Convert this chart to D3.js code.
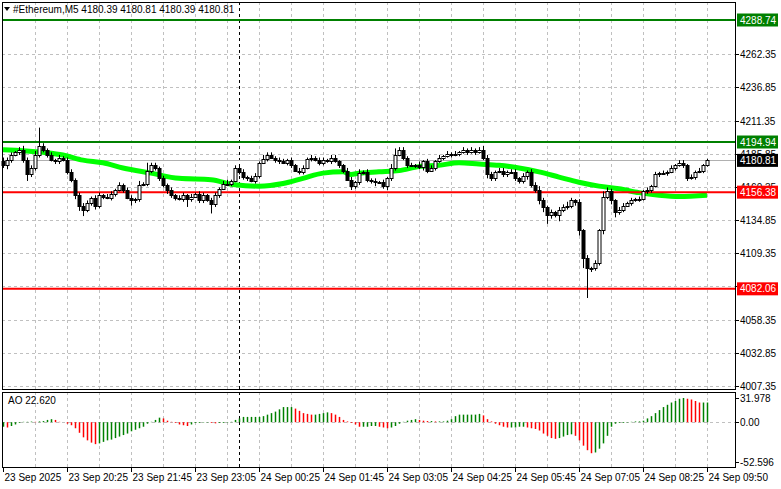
<!DOCTYPE html>
<html><head><meta charset="utf-8">
<script src="https://cdn.jsdelivr.net/npm/d3@7/dist/d3.min.js"></script>
<style>body{margin:0;background:#fff}svg{display:block}text{font-family:"Liberation Sans",Arial,sans-serif}</style>
</head><body>
<svg id="c" width="781" height="489"></svg>
<script>
const closes=[4177,4181,4185,4187,4189,4181,4170,4175,4185,4192,
4189,4185,4181,4180,4183,4181,4172,4166,4154,4146,
4143,4148,4152,4146,4154,4153,4152,4155,4158,4162,
4158,4152,4150,4151,4162,4163,4173,4177,4175,4167,
4162,4158,4154,4152,4151,4154,4151,4153,4155,4150,
4154,4150,4147,4154,4159,4163,4163,4165,4175,4172,
4168,4167,4165,4169,4179,4182,4185,4183,4181,4180,
4179,4181,4177,4173,4172,4175,4182,4183,4181,4179,
4181,4180,4183,4180,4177,4173,4166,4161,4164,4171,
4172,4166,4165,4164,4164,4161,4167,4175,4185,4189,
4183,4177,4177,4177,4176,4180,4173,4175,4180,4183,
4184,4186,4185,4186,4187,4189,4187,4189,4187,4189,
4183,4170,4167,4172,4173,4170,4172,4172,4167,4165,
4169,4172,4162,4158,4150,4145,4139,4141,4139,4143,
4145,4146,4150,4149,4127,4106,4098,4098,4102,4127,
4153,4157,4150,4141,4143,4146,4148,4150,4151,4151,
4157,4158,4161,4170,4171,4171,4172,4175,4177,4179,
4177,4167,4168,4172,4173,4177,4181];
const firstOpen=4180;
const upWick=[3,2,2,1,2,3,2,2,3,14,2,1,2,1,2,1,2,2,1,2,2,2,1,2,2,1,2,2,1,2,1,2,2,1,3,1,6,2,2,1,2,1,2,1,2,2,1,2,1,2,2,1,2,2,1,2,3,1,2,2,2,1,2,2,1,3,2,2,1,2,2,1,2,1,2,2,1,2,1,2,2,1,2,2,1,1,2,2,1,3,1,2,1,2,1,2,1,3,5,2,2,1,2,1,3,1,2,2,1,2,1,2,1,2,1,2,1,2,1,2,3,2,2,1,2,2,1,2,2,1,2,1,2,2,3,2,1,2,1,2,2,3,2,1,2,1,2,1,2,1,4,3,2,1,2,2,1,2,1,2,1,2,1,2,1,2,1,2,1,2,2,1,2,1,2,1,1];
const downWick=[2,3,2,1,2,2,5,2,2,2,2,2,1,2,2,1,2,2,3,4,5,2,2,3,2,2,1,2,2,1,2,1,4,2,2,1,2,2,2,2,2,3,2,2,1,2,6,2,1,2,2,1,7,2,2,1,2,2,1,2,2,2,1,2,2,1,2,1,2,2,1,2,2,1,2,2,1,2,1,2,2,1,2,1,2,2,1,3,2,2,1,2,2,3,1,2,3,2,2,1,2,2,1,2,2,3,2,1,2,1,2,1,2,1,2,1,2,1,2,1,2,3,2,2,1,2,2,1,2,2,2,3,2,2,3,4,7,3,2,5,2,2,2,3,4,8,23,3,2,2,3,2,3,4,2,2,1,2,1,2,1,2,2,1,2,1,2,1,2,1,2,2,1,2,1,2,1];
const maIdx=[0,10,15,20,25,30,37,44,52,58,64,70,75,80,85,87,89,94,99,104,109,114,119,124,129,134,139,144,149,154,159,164,169,176];
const maVals=[4189,4187,4185,4181,4179,4175,4171,4167,4166,4162,4161,4163,4167,4171,4172,4170,4171,4172,4173,4176,4177,4179,4178,4177,4175,4172,4168,4164,4161,4159,4156,4154,4153,4154];
const ao=[-6,-7,-5,-3,-1,0.5,0.5,0.8,0.5,1,1.5,3,4,3,0.5,0,-2,-4,-8,-14,-20,-24,-27,-29,-28,-26,-24,-23,-21,-19,-17,-15,-12,-10,-8,-6,-2,0.5,3,6,5,2,0.5,-1,-3,-4,-5,-3,-1,-1,-0.5,-0.5,-1,-1.5,-1,-1,-0.5,
0.5,3,5,7,7,7,7,7,8,10,12,14,17,20,20,20,18,15,12,11,10,10,11,12,13,12,10,7,3,1,-1,-3,-6,-6,-6,-5,-5,-6,-7,-8,-7,-5,-2,0.5,2,3,4,3,2,1.5,1.5,1,1,1,2,4,8,10,10,10,10,10,11,9,4,1,-2,-4,-6,-7,-7,-7,-6,-6,-7,-8,-9,-11,-15,-18,-21,-22,-21,-19,-17,-16,-18,-24,-31,-37,-41,-40,-35,-28,-18,-6,-2,-1,-1,-0.5,0.5,1,1,2,5,8,12,16,20,23,26,28,31,32,31,30,28,26,26,26];
const priceTicks=[4262.35,4236.85,4211.35,4185.85,4160.35,4134.85,4109.35,4083.85,4058.35,4032.85,4007.35];
const levels=[{v:4288.74,c:"#008000"},{v:4194.94,c:"#008000"},{v:4156.38,c:"#ff0000"},{v:4082.06,c:"#ff0000"}];
const lastPrice=4180.81;
const timeIdx=[0,16,32,48,64,80,96,112,128,144,160,176];
const timeLabels=["23 Sep 2025","23 Sep 20:25","23 Sep 21:45","23 Sep 23:05","24 Sep 00:25","24 Sep 01:45","24 Sep 03:05","24 Sep 04:25","24 Sep 05:45","24 Sep 07:05","24 Sep 08:25","24 Sep 09:50"];
const aoTicks=[31.978,0,-52.596];

const svg=d3.select("#c");
const L=2,R=735,PT=2,PB=389,AT=392,AB=467;
const x=d3.scaleLinear().domain([0,176]).range([3,707]);
const y=d3.scaleLinear().domain([4007.35,4288.74]).range([386,20]);
const ya=d3.scaleLinear().domain([-52.596,31.978]).range([462,398]);
const grid="#c0c0c0";
const vg=d3.range(8,177,8);
[[PT,PB],[AT,AB]].forEach(([t,b])=>{
 svg.selectAll(null).data(vg).enter().append("line").attr("x1",d=>Math.round(x(d))+.5).attr("x2",d=>Math.round(x(d))+.5).attr("y1",t).attr("y2",b)
  .attr("stroke",grid).attr("stroke-dasharray","3,3");
});
svg.append("g").selectAll("line").data(priceTicks).enter().append("line").attr("x1",L).attr("x2",R).attr("y1",d=>Math.round(y(d))+.5).attr("y2",d=>Math.round(y(d))+.5).attr("stroke",grid).attr("stroke-dasharray","3,3");
svg.append("line").attr("x1",L).attr("x2",R).attr("y1",Math.round(ya(0))+.5).attr("y2",Math.round(ya(0))+.5).attr("stroke",grid).attr("stroke-dasharray","3,3");
[[PT,PB],[AT,AB]].forEach(([t,b])=>svg.append("line").attr("x1",Math.round(x(59))+.5).attr("x2",Math.round(x(59))+.5).attr("y1",t).attr("y2",b).attr("stroke","#000").attr("stroke-dasharray","3,3"));
svg.append("line").attr("x1",L).attr("x2",R).attr("y1",Math.round(y(lastPrice))+.5).attr("y2",Math.round(y(lastPrice))+.5).attr("stroke","#b0b0b0");
svg.append("path").datum(maIdx.map((d,i)=>[d,maVals[i]])).attr("d",d3.line().x(d=>x(d[0])).y(d=>y(d[1])).curve(d3.curveMonotoneX))
 .attr("fill","none").attr("stroke","#00ff00").attr("stroke-width",5);
svg.selectAll(null).data(levels).enter().append("line").attr("x1",L).attr("x2",R).attr("y1",d=>y(d.v)).attr("y2",d=>y(d.v)).attr("stroke",d=>d.c).attr("stroke-width",2);
const bars=closes.map((c,i)=>{const o=i?closes[i-1]:firstOpen;return{i,o,c,h:Math.max(o,c)+upWick[i],l:Math.min(o,c)-downWick[i]};});
const g=svg.append("g");
bars.forEach(b=>{
 const cx=Math.round(x(b.i))+.5;
 g.append("line").attr("x1",cx).attr("x2",cx).attr("y1",y(b.h)).attr("y2",y(b.l)).attr("stroke","#000");
 const top=Math.round(y(Math.max(b.o,b.c))),bot=Math.round(y(Math.min(b.o,b.c)));
 g.append("rect").attr("x",cx-1.5).attr("y",top+.5).attr("width",3).attr("height",Math.max(bot-top,1))
  .attr("fill",b.c>=b.o?"#fff":"#000").attr("stroke","#000").attr("stroke-width",1);
});
svg.selectAll(null).data(ao).enter().append("line").attr("x1",(d,i)=>Math.round(x(i))+.5).attr("x2",(d,i)=>Math.round(x(i))+.5)
 .attr("y1",ya(0)).attr("y2",d=>ya(d)).attr("stroke",(d,i)=>i>0&&d<ao[i-1]?"#ff0000":"#008000").attr("stroke-width",1.5);
svg.append("rect").attr("x",L+.5).attr("y",PT+.5).attr("width",R-L).attr("height",PB-PT).attr("fill","none").attr("stroke","#000");
svg.append("rect").attr("x",L+.5).attr("y",AT+.5).attr("width",R-L).attr("height",AB-AT).attr("fill","none").attr("stroke","#000");
const fs="10px";
const boxes=levels.concat([{v:lastPrice,c:"#000"}]);
priceTicks.forEach(d=>{const gy=Math.round(y(d));
 svg.append("line").attr("x1",R).attr("x2",R+4).attr("y1",gy+.5).attr("y2",gy+.5).attr("stroke","#000");
 const hidden=boxes.some(b=>Math.abs(y(b.v)-gy)<4);
 if(!hidden) svg.append("text").attr("x",740).attr("y",gy+4).attr("font-size",fs).text(d.toFixed(2));});
aoTicks.forEach(d=>{const gy=Math.round(ya(d));
 svg.append("line").attr("x1",R).attr("x2",R+4).attr("y1",gy+.5).attr("y2",gy+.5).attr("stroke","#000");
 svg.append("text").attr("x",740).attr("y",gy+4).attr("font-size",fs).text(d.toFixed(d===0?2:3));});
boxes.forEach(b=>{const gy=y(b.v);
 svg.append("rect").attr("x",737).attr("y",gy-6.5).attr("width",41).attr("height",13).attr("fill",b.c);
 svg.append("text").attr("x",740).attr("y",gy+3.5).attr("font-size",fs).attr("fill","#fff").text(b.v.toFixed(2));});
timeIdx.forEach((t,k)=>{const tx=Math.round(x(t))+.5;
 svg.append("line").attr("x1",tx).attr("x2",tx).attr("y1",AB).attr("y2",AB+5).attr("stroke","#000");
 svg.append("text").attr("x",tx+1).attr("y",481).attr("font-size",fs).text(timeLabels[k]);});
svg.append("path").attr("d","M4,7 L10,7 L7,11 Z").attr("fill","#000");
svg.append("text").attr("x",13).attr("y",13).attr("font-size",fs).text("#Ethereum,M5  4180.39 4180.81 4180.39 4180.81");
svg.append("text").attr("x",8).attr("y",404).attr("font-size",fs).text("AO 22.620");
</script>
</body></html>
